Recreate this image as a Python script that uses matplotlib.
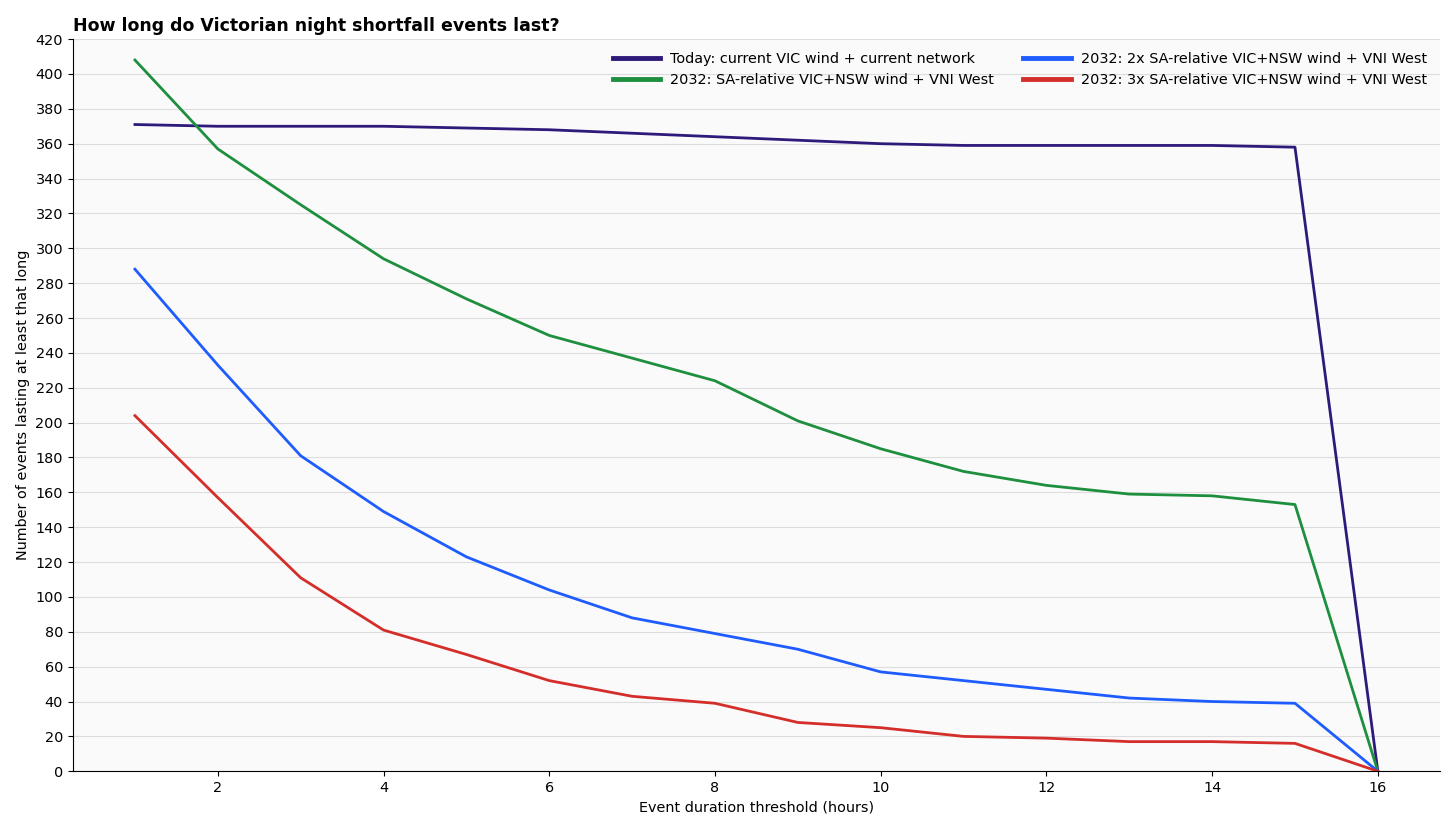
import matplotlib
matplotlib.use("Agg")
import matplotlib.pyplot as plt

horas = list(range(1, 17))

hoy = [371, 370, 370, 370, 369, 368, 366, 364, 362, 360, 359, 359, 359, 359, 358, 0]
sa_rel = [408, 357, 325, 294, 271, 250, 237, 224, 201, 185, 172, 164, 159, 158, 153, 0]
sa_2x = [288, 233, 181, 149, 123, 104, 88, 79, 70, 57, 52, 47, 42, 40, 39, 0]
sa_3x = [204, 157, 111, 81, 67, 52, 43, 39, 28, 25, 20, 19, 17, 17, 16, 0]

etiquetas = [
    "Today: current VIC wind + current network",
    "2032: SA-relative VIC+NSW wind + VNI West",
    "2032: 2x SA-relative VIC+NSW wind + VNI West",
    "2032: 3x SA-relative VIC+NSW wind + VNI West",
]
colores = ["#2e1a7a", "#1e8f3e", "#1f5cff", "#d42e2a"]

plt.rcParams["font.size"] = 10.4

fig, ax = plt.subplots(figsize=(14.56, 8.32), dpi=100)
fig.subplots_adjust(left=0.050, right=0.989, top=0.953, bottom=0.073)
ax.set_facecolor("#fafafa")

for serie, etiqueta, color in zip([hoy, sa_rel, sa_2x, sa_3x], etiquetas, colores):
    ax.plot(horas, serie, color=color, linewidth=2, label=etiqueta)

ax.set_ylim(0, 420)
ax.set_yticks(range(0, 421, 20))
ax.set_xticks(range(2, 17, 2))
ax.grid(axis="y", color="#dddddd", linewidth=0.8)
ax.set_axisbelow(True)
ax.spines["top"].set_visible(False)
ax.spines["right"].set_visible(False)

ax.set_title("How long do Victorian night shortfall events last?", loc="left",
             fontweight="bold", fontsize=12.5)
ax.set_xlabel("Event duration threshold (hours)")
ax.set_ylabel("Number of events lasting at least that long")
leg = ax.legend(ncol=2, frameon=False, loc="upper right", handlelength=3.3,
                columnspacing=2.0, handletextpad=0.7)
for linea in leg.get_lines():
    linea.set_linewidth(3.5)

plt.savefig("out.png", dpi=100)
